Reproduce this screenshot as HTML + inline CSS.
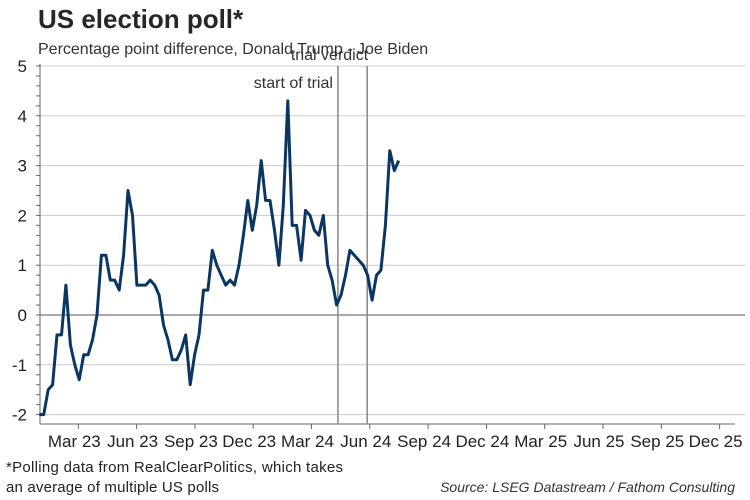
<!DOCTYPE html>
<html><head><meta charset="utf-8"><style>
body{margin:0;background:#fff;}
svg{display:block;font-family:"Liberation Sans",Arial,sans-serif;}
</style></head><body>
<svg id="chart" width="750" height="500">
<text x="38" y="28" font-size="26" font-weight="bold" fill="#262626">US election poll*</text>
<text x="38" y="54" font-size="16" fill="#333">Percentage point difference, Donald Trump - Joe Biden</text>
<g id="grid"></g><g id="yaxis"></g><g id="xaxis"></g><g id="events"></g><g id="series"></g>
<text x="6" y="472" font-size="15" fill="#222" textLength="337">*Polling data from RealClearPolitics, which takes</text>
<text x="6" y="492" font-size="15" fill="#222" textLength="213">an average of multiple US polls</text>
<text x="735" y="492" font-size="14" font-style="italic" fill="#333" text-anchor="end">Source: LSEG Datastream / Fathom Consulting</text>
</svg>
<script>
const values=[-2,-2,-1.5,-1.4,-0.4,-0.4,0.6,-0.6,-1.0,-1.3,-0.8,-0.8,-0.5,0,1.2,1.2,0.7,0.7,0.5,1.2,2.5,2.0,0.6,0.6,0.6,0.7,0.6,0.4,-0.2,-0.5,-0.9,-0.9,-0.7,-0.4,-1.4,-0.8,-0.4,0.5,0.5,1.3,1.0,0.8,0.6,0.7,0.6,1.0,1.6,2.3,1.7,2.2,3.1,2.3,2.3,1.7,1.0,2.2,4.3,1.8,1.8,1.1,2.1,2.0,1.7,1.6,2.0,1.0,0.7,0.2,0.4,0.8,1.3,1.2,1.1,1.0,0.8,0.3,0.8,0.9,1.8,3.3,2.9,3.1];
const xLabels=["Mar 23","Jun 23","Sep 23","Dec 23","Mar 24","Jun 24","Sep 24","Dec 24","Mar 25","Jun 25","Sep 25","Dec 25"];
const yTicks=[-2,-1,0,1,2,3,4,5];
const eventWeeks=[67.3,73.9];
const eventLabels=["start of trial","trial verdict"];
const NS="http://www.w3.org/2000/svg";
const L=40,R=745,T=66,B=424;
const y=v=>315-49.8*v;
const qStep=58.3, wStep=4.437;
const xW=i=>39.3+i*wStep;
const xQ=q=>78.3+q*qStep;
function mk(p,tag,a){const e=document.createElementNS(NS,tag);for(const k in a)e.setAttribute(k,a[k]);document.getElementById(p).appendChild(e);return e;}
yTicks.forEach(v=>{
 const g=mk('grid','line',{x1:L,x2:R,y1:y(v),y2:y(v),stroke:v===0?'#555':'#ccc','stroke-width':1});
 
 
 const t=mk('yaxis','text',{x:27,y:y(v)+6,'font-size':17,'text-anchor':'end',fill:'#222'});
 t.textContent=v;
 
 
});
for(let v=-2;v<=5.001;v+=0.2){const m=mk('yaxis','line',{x1:36,x2:L,y1:y(v),y2:y(v),stroke:'#666','stroke-width':1});
 
 }
const ya=mk('yaxis','line',{x1:L,x2:L,y1:T-2,y2:B,stroke:'#666'});


const xa=mk('xaxis','line',{x1:L,x2:735,y1:B,y2:B,stroke:'#666'});


xLabels.forEach((s,q)=>{
 const tk=mk('xaxis','line',{x1:xQ(q),x2:xQ(q),y1:B,y2:B+5,stroke:'#666'});
 
 
 const t=mk('xaxis','text',{x:xQ(q)-4,y:447,'font-size':17,'text-anchor':'middle',fill:'#222'});
 t.textContent=s;
 
 
});
eventWeeks.forEach((w,i)=>{
 const ln=mk('events','line',{x1:xW(w),x2:xW(w),y1:T,y2:B,stroke:'#888','stroke-width':1.5});
 
 
 const t=mk('events','text',{x:xW(w)+(i?1:-5),y:i?60:88,'font-size':16,'text-anchor':'end',fill:'#333'});
 t.textContent=eventLabels[i];
 
 
});
const p=mk('series','path',{d:values.map((v,i)=>(i?'L':'M')+xW(i).toFixed(1)+','+y(v).toFixed(1)).join(''),fill:'none',stroke:'#0b3563','stroke-width':3,'stroke-linejoin':'round'});


</script>
</body></html>
